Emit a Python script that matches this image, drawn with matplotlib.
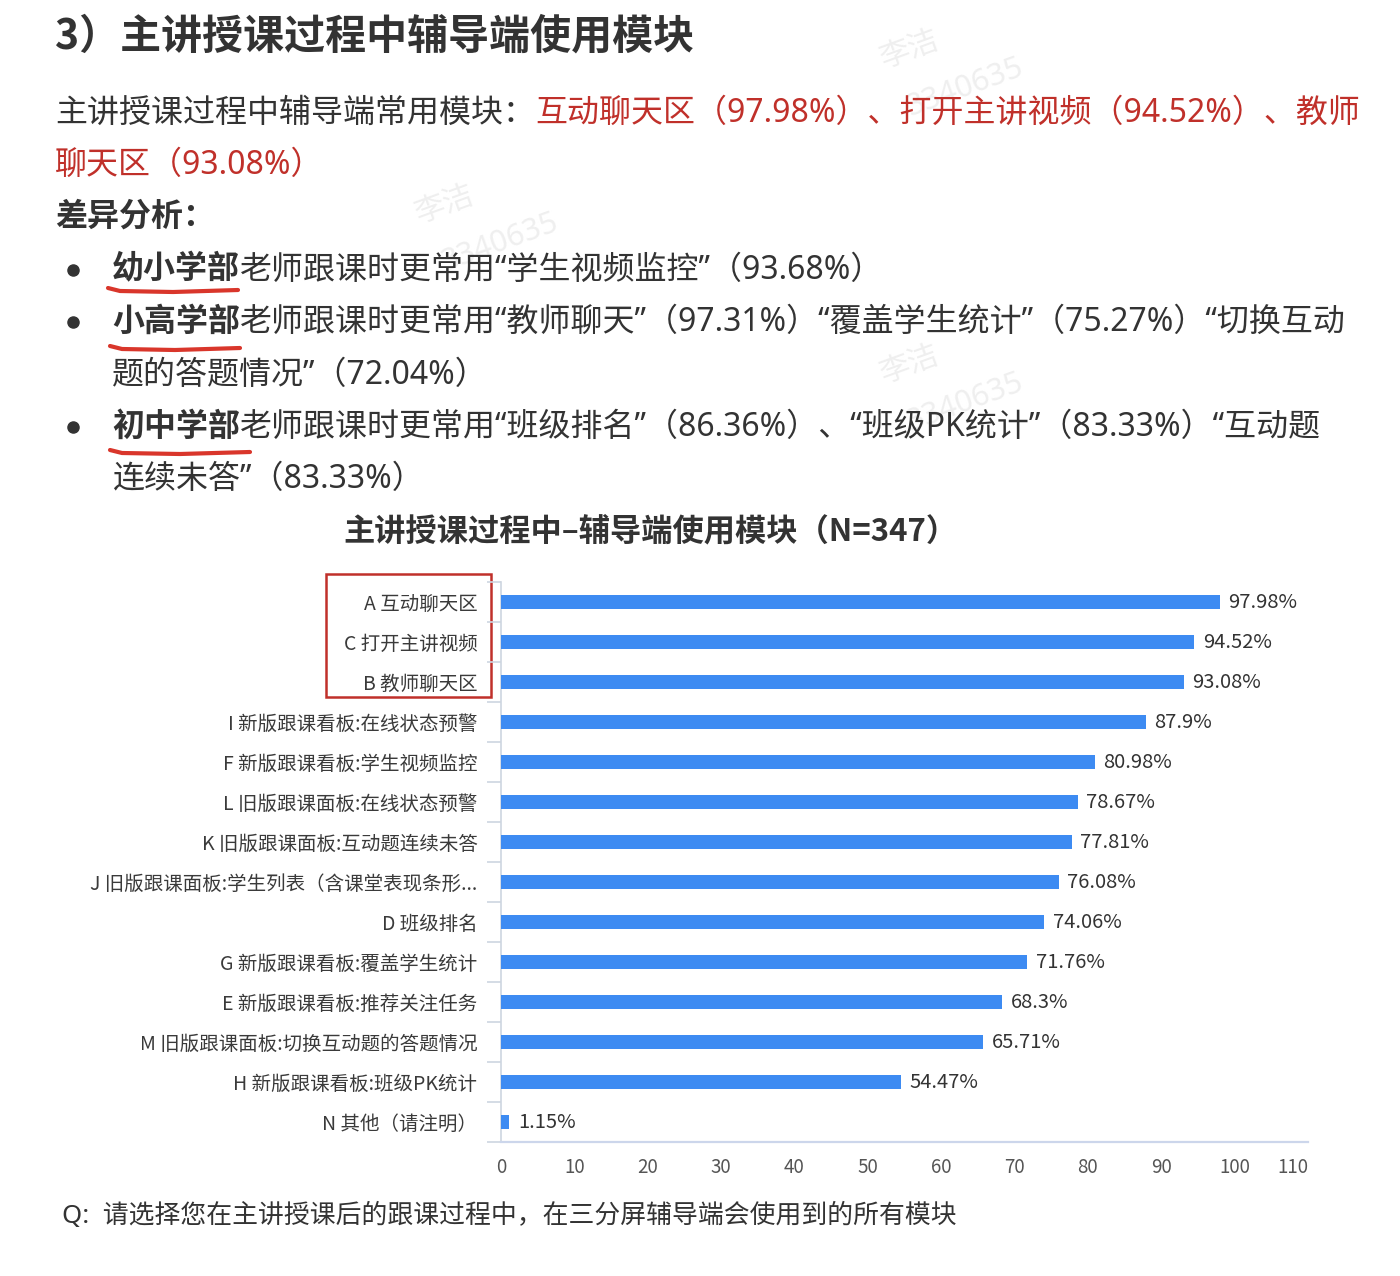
# -*- coding: utf-8 -*-
"""
Survey slide: modules the assistant-side uses during the main lecture.
Rebuilds the text block above the chart and the horizontal bar chart.
"""

import matplotlib
matplotlib.use("Agg")
import matplotlib.pyplot as plt
from matplotlib.patches import Rectangle
from matplotlib.lines import Line2D

plt.rcParams['font.family'] = ['Noto Sans CJK SC', 'DejaVu Sans']
# latin glyphs (digits, curly quotes) from Noto Sans, CJK from Noto Sans CJK SC
BODY_FONT = ['Noto Sans', 'Noto Sans CJK SC']

W, H = 1400, 1276

# ---- chart data (top to bottom) ----
categories = [
    "A 互动聊天区",
    "C 打开主讲视频",
    "B 教师聊天区",
    "I 新版跟课看板:在线状态预警",
    "F 新版跟课看板:学生视频监控",
    "L 旧版跟课面板:在线状态预警",
    "K 旧版跟课面板:互动题连续未答",
    "J 旧版跟课面板:学生列表（含课堂表现条形...",
    "D 班级排名",
    "G 新版跟课看板:覆盖学生统计",
    "E 新版跟课看板:推荐关注任务",
    "M 旧版跟课面板:切换互动题的答题情况",
    "H 新版跟课看板:班级PK统计",
    "N 其他（请注明）",
]
values = [97.98, 94.52, 93.08, 87.9, 80.98, 78.67, 77.81,
          76.08, 74.06, 71.76, 68.3, 65.71, 54.47, 1.15]
value_labels = ["97.98%", "94.52%", "93.08%", "87.9%", "80.98%", "78.67%", "77.81%",
                "76.08%", "74.06%", "71.76%", "68.3%", "65.71%", "54.47%", "1.15%"]
x_ticks = [0, 10, 20, 30, 40, 50, 60, 70, 80, 90, 100, 110]

chart_title = "主讲授课过程中–辅导端使用模块（N=347）"
question = "Q:  请选择您在主讲授课后的跟课过程中，在三分屏辅导端会使用到的所有模块"

# ---- text block ----
heading = "3）主讲授课过程中辅导端使用模块"
GRAY = "#333333"
RED = "#c0302a"
text_lines = [
    # (x, y, [(text, color, weight), ...])
    (55, 113, [("主讲授课过程中辅导端常用模块：", GRAY, "normal"),
               ("互动聊天区（97.98%）、打开主讲视频（94.52%）、教师", RED, "normal")]),
    (55, 165, [("聊天区（93.08%）", RED, "normal")]),
    (55, 217, [("差异分析：", GRAY, "bold")]),
    (112, 270, [("幼小学部", GRAY, "bold"),
                ("老师跟课时更常用“学生视频监控”（93.68%）", GRAY, "normal")]),
    (112, 322, [("小高学部", GRAY, "bold"),
                ("老师跟课时更常用“教师聊天”（97.31%）“覆盖学生统计”（75.27%）“切换互动", GRAY, "normal")]),
    (112, 375, [("题的答题情况”（72.04%）", GRAY, "normal")]),
    (112, 427, [("初中学部", GRAY, "bold"),
                ("老师跟课时更常用“班级排名”（86.36%）、“班级PK统计”（83.33%）“互动题", GRAY, "normal")]),
    (112, 479, [("连续未答”（83.33%）", GRAY, "normal")]),
]
bullet_rows = [270, 322, 427]
underlines = [(108, 238, 290), (110, 240, 348), (110, 250, 452)]
watermarks = [(910, 50), (445, 205), (910, 365)]


def fx(x):
    return x / W


def fy(y):
    return 1 - y / H


fig = plt.figure(figsize=(14, 12.76), dpi=100)
fig.patch.set_facecolor("white")

# full-figure layer for the text
bg = fig.add_axes([0, 0, 1, 1])
bg.set_xlim(0, 1)
bg.set_ylim(0, 1)
bg.axis("off")

# faint watermark
for cx, cy in watermarks:
    bg.text(fx(cx), fy(cy), "李洁", fontsize=22, color="#efefef",
            rotation=20, ha="center", va="center", zorder=0)
    bg.text(fx(cx + 55), fy(cy + 38), "3340635", fontsize=22, color="#efefef",
            rotation=20, ha="center", va="center", zorder=0, family=BODY_FONT)

bg.text(fx(55), fy(37), heading, fontsize=29.5, fontweight="bold", color=GRAY,
        ha="left", va="center")

for x0, y0, parts in text_lines:
    prev = None
    for txt, color, weight in parts:
        if prev is None:
            prev = bg.text(fx(x0), fy(y0), txt, fontsize=23, color=color,
                           fontweight=weight, ha="left", va="center",
                           family=BODY_FONT)
        else:
            prev = bg.annotate(txt, xy=(1, 0), xycoords=prev, fontsize=23,
                               color=color, fontweight=weight, ha="left",
                               va="bottom", annotation_clip=False,
                               family=BODY_FONT)

for yb in bullet_rows:
    bg.plot([fx(73)], [fy(yb)], marker="o", markersize=8, color=GRAY)

for x_start, x_end, yu in underlines:
    xs = [x_start, x_start + 12, (x_start + x_end) / 2, x_end]
    ys = [yu - 2, yu + 1, yu + 2, yu]
    bg.add_line(Line2D([fx(v) for v in xs], [fy(v) for v in ys],
                       color="#d9362b", linewidth=3, solid_capstyle="round"))

bg.text(fx(650), fy(531), chart_title, fontsize=22.5, fontweight="bold",
        color=GRAY, ha="center", va="center")
bg.text(fx(62), fy(1216), question, fontsize=18.6, color=GRAY,
        ha="left", va="center", family=BODY_FONT)

# ---- bar chart ----
ax = fig.add_axes([fx(501), fy(1142), fx(1308) - fx(501), (1142 - 582) / H])
y_pos = list(range(len(categories)))
ax.barh(y_pos, values, height=0.36, color="#3d8bf2", zorder=3)
ax.set_xlim(0, 110)
ax.set_ylim(len(categories) - 0.5, -0.5)

for yv, v, lab in zip(y_pos, values, value_labels):
    ax.annotate(lab, xy=(v, yv), xytext=(6, 0), textcoords="offset points",
                ha="left", va="center", fontsize=14.5, color=GRAY)

ax.set_yticks(y_pos)
ax.set_yticklabels(categories, fontsize=14, color="#3a3a3a")
ax.tick_params(axis="y", which="major", length=0, pad=17)
ax.set_yticks([i - 0.5 for i in range(len(categories) + 1)], minor=True)
ax.tick_params(axis="y", which="minor", length=10, width=1.2, color="#cdd5e0")

ax.set_xticks(x_ticks)
ax.set_xticklabels([str(t) for t in x_ticks], fontsize=13.5, color="#555555")
ax.tick_params(axis="x", length=0, pad=11)
ax.get_xticklabels()[-1].set_ha("right")

for side in ["top", "right"]:
    ax.spines[side].set_visible(False)
ax.spines["left"].set_color("#cdd5e0")
ax.spines["left"].set_linewidth(1.2)
ax.spines["bottom"].set_color("#ccd6eb")
ax.spines["bottom"].set_linewidth(1.6)
ax.set_facecolor("none")

# red box around the top three labels
bg.add_patch(Rectangle((fx(326), fy(697)), fx(491) - fx(326), (697 - 574) / H,
                       fill=False, edgecolor="#c0302a", linewidth=1.8, zorder=5))

fig.savefig("out.png", dpi=100, facecolor="white")
